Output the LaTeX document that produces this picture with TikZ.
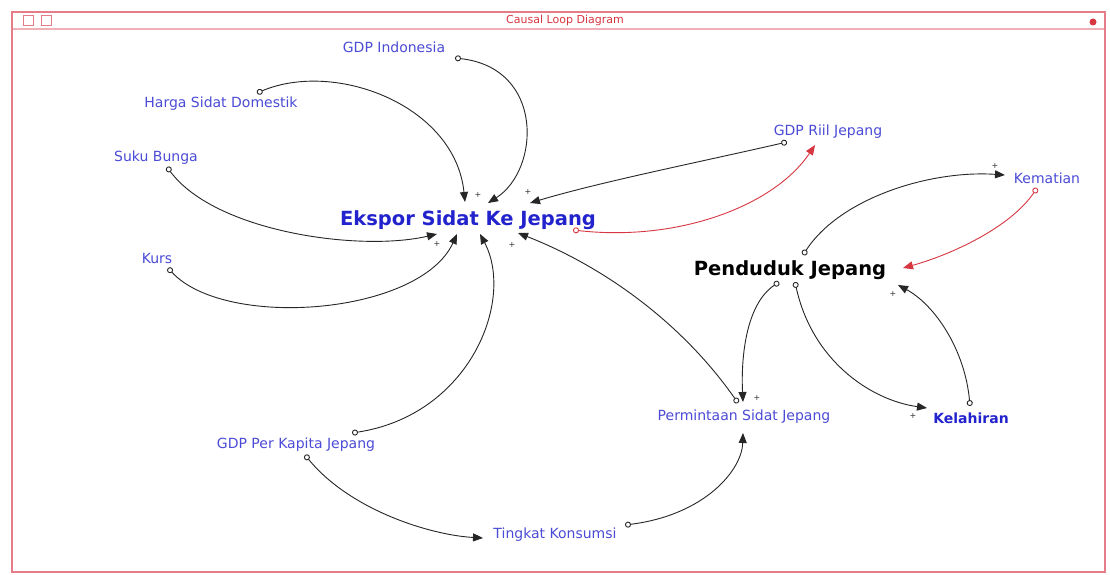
\documentclass[tikz,border=0pt]{standalone}
\usepackage{fontspec}
\setmainfont{DejaVu Sans}
\usetikzlibrary{arrows.meta}
\definecolor{lbl}{RGB}{75,75,215}
\definecolor{lblbold}{RGB}{35,35,205}
\definecolor{framecol}{RGB}{228,125,135}
\definecolor{linkred}{RGB}{215,55,65}
\begin{document}
\begin{tikzpicture}[x=1pt,y=-1pt,
  var/.style={font=\fontsize{14}{16}\selectfont, text=lbl, inner sep=0pt},
  keyvar/.style={font=\fontsize{19.5}{22}\selectfont\bfseries, inner sep=0pt},
  link/.style={draw=black!85, line width=0.9pt,
    {Circle[open,length=6pt,width=6pt,fill=white]}-{Triangle[length=10pt,width=8pt]}},
  redlink/.style={link, draw=linkred},
  pol/.style={font=\fontsize{8}{8}\selectfont, inner sep=0pt, text=black!80}]

% page and window frame
\useasboundingbox[fill=white] (0,0) rectangle (1110,575);
\draw[framecol, line width=1.3pt] (12,12) rectangle (1105,572);
\draw[framecol!60, line width=1.5pt] (13,29) -- (1104,29);
\node[text=linkred, font=\fontsize{11}{12}\selectfont] (title) at (565,20) {Causal Loop Diagram};
\node[draw=framecol, minimum size=10pt, inner sep=0pt, line width=0.8pt] (btnA) at (28,20) {};
\node[draw=framecol, minimum size=10pt, inner sep=0pt, line width=0.8pt] (btnB) at (46,20) {};
\node[circle, fill=linkred, minimum size=7pt, inner sep=0pt] (btnC) at (1093,22) {};

% variables
\node[var] (gdpi) at (394,47) {GDP Indonesia};
\node[var] (harga) at (221,104) {Harga Sidat Domestik};
\node[var] (suku) at (156,158) {Suku Bunga};
\node[var] (kurs) at (157,258) {Kurs};
\node[keyvar, text=lblbold] (ekspor) at (468,220) {Ekspor Sidat Ke Jepang};
\node[var] (gdpr) at (828,132) {GDP Riil Jepang};
\node[var] (kematian) at (1047,178) {Kematian};
\node[keyvar, text=black] (penduduk) at (790,270) {Penduduk Jepang};
\node[var] (permintaan) at (744,417) {Permintaan Sidat Jepang};
\node[var, font=\fontsize{14}{16}\selectfont\bfseries, text=lblbold] (kelahiran) at (971,418) {Kelahiran};
\node[var] (gdpk) at (296,445) {GDP Per Kapita Jepang};
\node[var] (konsumsi) at (555,535) {Tingkat Konsumsi};

% connector ends
\coordinate (gdpi-o) at (455,58);
\coordinate (harga-o) at (257,93);
\coordinate (suku-o) at (167,167);
\coordinate (kurs-o) at (168,268);
\coordinate (gdpk-o1) at (352,433);
\coordinate (gdpk-o2) at (305,455);
\coordinate (konsumsi-o) at (625,525);
\coordinate (permintaan-o) at (738,403);
\coordinate (gdpr-o) at (787,142);
\coordinate (ekspor-o) at (573,230);
\coordinate (penduduk-o1) at (803,255);
\coordinate (penduduk-o2) at (779,282);
\coordinate (penduduk-o3) at (795,282);
\coordinate (kematian-o) at (1037,188);
\coordinate (kelahiran-o) at (970,406);

\coordinate (ekspor-t1) at (465,202);
\coordinate (ekspor-t2) at (488,203);
\coordinate (ekspor-t3) at (530,203);
\coordinate (ekspor-b1) at (437,234);
\coordinate (ekspor-b2) at (457,234);
\coordinate (ekspor-b3) at (480,234);
\coordinate (ekspor-b4) at (518,233);
\coordinate (gdpr-t) at (815,145);
\coordinate (kematian-t) at (1005,175);
\coordinate (penduduk-t1) at (903,268);
\coordinate (penduduk-t2) at (898,285);
\coordinate (kelahiran-t) at (927,408);
\coordinate (permintaan-t1) at (743,402);
\coordinate (permintaan-t2) at (743,433);
\coordinate (konsumsi-t) at (483,538);

% links into the export variable
\draw[link] (gdpi-o) .. controls (545,68) and (540,170) .. (ekspor-t2);
\draw[link] (harga-o) .. controls (335,60) and (455,105) .. (ekspor-t1);
\draw[link] (suku-o) .. controls (215,232) and (360,252) .. (ekspor-b1);
\draw[link] (kurs-o) .. controls (225,330) and (420,315) .. (ekspor-b2);
\draw[link] (gdpk-o1) .. controls (470,415) and (515,300) .. (ekspor-b3);
\draw[link] (permintaan-o) .. controls (680,320) and (600,265) .. (ekspor-b4);
\draw[link] (gdpr-o) .. controls (700,162) and (600,182) .. (ekspor-t3);
\draw[redlink] (ekspor-o) .. controls (680,242) and (775,205) .. (gdpr-t);

% consumption chain
\draw[link] (gdpk-o2) .. controls (350,510) and (430,535) .. (konsumsi-t);
\draw[link] (konsumsi-o) .. controls (705,515) and (742,470) .. (permintaan-t2);

% population loop
\draw[link] (penduduk-o1) .. controls (840,198) and (930,170) .. (kematian-t);
\draw[redlink] (kematian-o) .. controls (1010,228) and (950,255) .. (penduduk-t1);
\draw[link] (kelahiran-o) .. controls (965,350) and (935,305) .. (penduduk-t2);
\draw[link] (penduduk-o3) .. controls (812,360) and (870,400) .. (kelahiran-t);
\draw[link] (penduduk-o2) .. controls (745,305) and (741,360) .. (permintaan-t1);

% polarity marks
\node[pol] (p1) at (478,195) {+};
\node[pol] (p2) at (528,192) {+};
\node[pol] (p3) at (437,244) {+};
\node[pol] (p4) at (512,245) {+};
\node[pol] (p5) at (995,166) {+};
\node[pol] (p6) at (893,294) {+};
\node[pol] (p7) at (913,416) {+};
\node[pol] (p8) at (757,398) {+};
\end{tikzpicture}
\end{document}
